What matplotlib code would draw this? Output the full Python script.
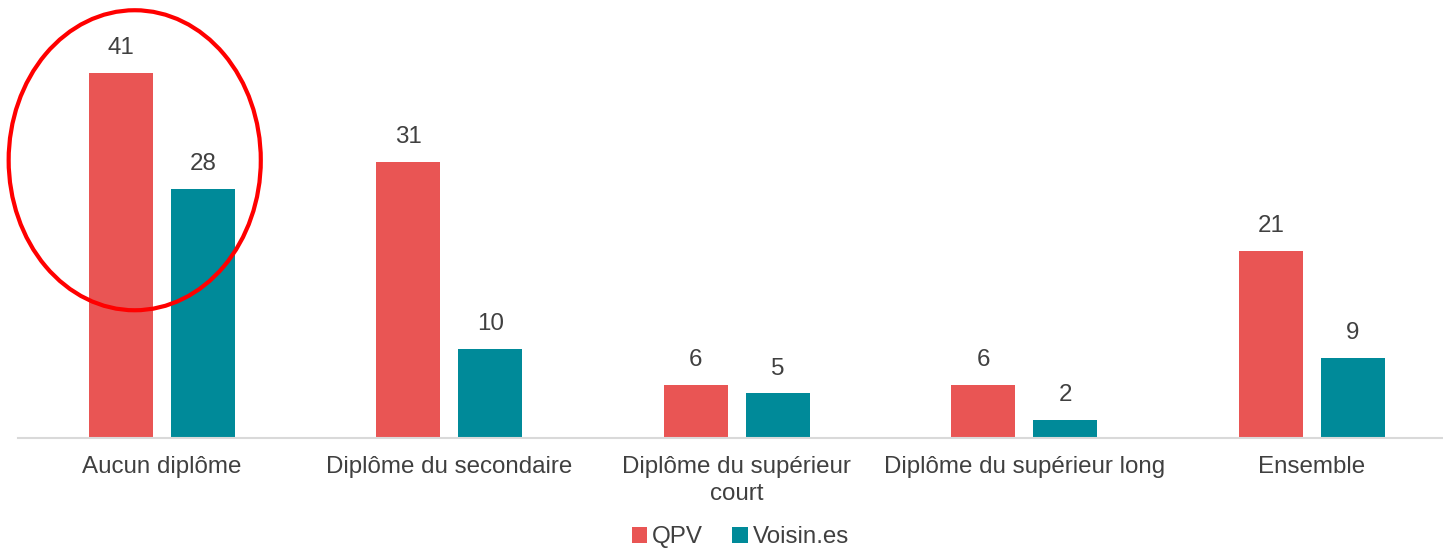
import numpy as np
import matplotlib.pyplot as plt
from matplotlib.patches import Ellipse

plt.rcParams['font.family'] = ['Liberation Sans', 'DejaVu Sans']

categories = ['Aucun diplôme', 'Diplôme du secondaire', 'Diplôme du supérieur\ncourt',
              'Diplôme du supérieur long', 'Ensemble']
qpv = [41, 31, 6, 6, 21]
voisins = [28, 10, 5, 2, 9]
series_names = ['QPV', 'Voisin.es']

red = '#E95554'
teal = '#008A99'
txt = '#404040'
fs = 17.4

fig = plt.figure(figsize=(14.43, 5.56), dpi=100)
ax = fig.add_axes([18 / 1443, 118 / 556, 1437.5 / 1443, 438 / 556])

x = np.arange(len(categories))
w = 0.2226
off = 0.1426
b1 = ax.bar(x - off, qpv, w, color=red, label=series_names[0])
b2 = ax.bar(x + off, voisins, w, color=teal, label=series_names[1])

for bars in (b1, b2):
    for r in bars:
        ax.annotate(f'{r.get_height():.0f}', (r.get_x() + r.get_width() / 2, r.get_height()),
                    xytext=(0, 10), textcoords='offset points', ha='center', va='bottom',
                    fontsize=fs, color=txt)

ax.set_xlim(-0.5, len(categories) - 0.5)
ax.set_ylim(0, 49.2)
ax.set_xticks(x)
ax.set_xticklabels(categories, fontsize=fs, color=txt, linespacing=1.3)
ax.tick_params(axis='x', length=0, pad=13)
ax.set_yticks([])
for s in ['top', 'right', 'left']:
    ax.spines[s].set_visible(False)
ax.spines['bottom'].set_color('#d9d9d9')
ax.spines['bottom'].set_linewidth(1.5)

# red circle highlighting the first group
ell = Ellipse((-0.094, 31.2), 0.877, 33.7, fill=False, edgecolor='#FF0000',
              linewidth=3, clip_on=False, zorder=5)
ax.add_patch(ell)

fig.legend(loc='lower center', bbox_to_anchor=(0.513, -0.025), ncol=2, frameon=False,
           fontsize=fs, labelcolor=txt, handlelength=0.65, handleheight=0.65,
           handletextpad=0.2, columnspacing=1.2)

fig.savefig('out.png', dpi=100)
